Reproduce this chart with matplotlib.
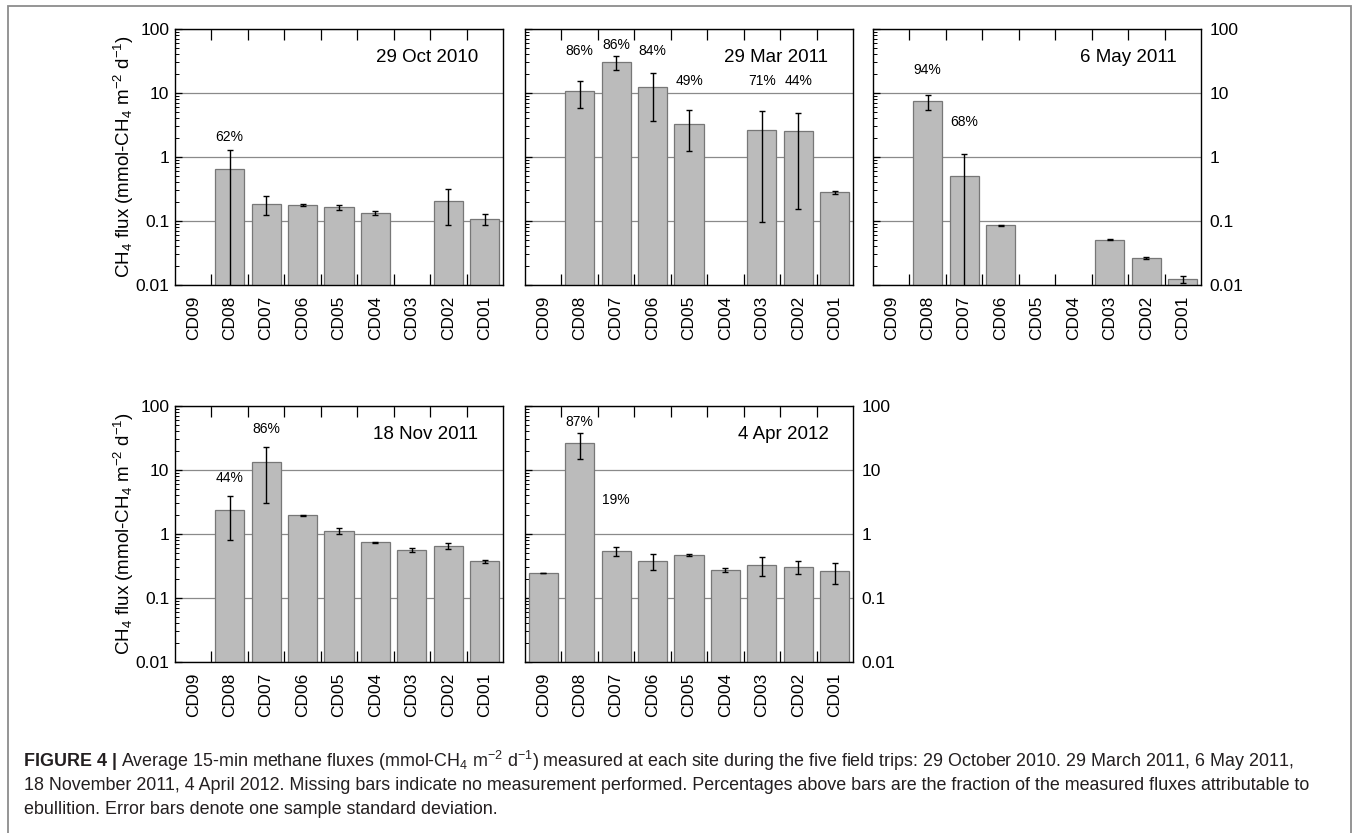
import matplotlib
matplotlib.use('Agg')
import matplotlib.pyplot as plt
import numpy as np
from matplotlib.patches import Rectangle
from matplotlib.ticker import LogLocator, NullFormatter

plt.rcParams['font.family'] = ['Liberation Sans', 'DejaVu Sans']
plt.rcParams['mathtext.fontset'] = 'custom'
plt.rcParams['mathtext.rm'] = 'Liberation Sans'
plt.rcParams['mathtext.it'] = 'Liberation Sans:italic'
plt.rcParams['mathtext.bf'] = 'Liberation Sans:bold'

nan = np.nan
sites = ['CD09', 'CD08', 'CD07', 'CD06', 'CD05', 'CD04', 'CD03', 'CD02', 'CD01']

# mean flux, error bar low / high ends (mmol-CH4 m-2 d-1), ebullition share
oct10_flux = [nan, 0.66, 0.187, 0.176, 0.166, 0.133, nan, 0.203, 0.107]
oct10_lo = [nan, 0.005, 0.124, 0.169, 0.150, 0.126, nan, 0.087, 0.087]
oct10_hi = [nan, 1.29, 0.242, 0.187, 0.176, 0.141, nan, 0.316, 0.128]
oct10_pct = ['', '62%', '', '', '', '', '', '', '']
oct10_pct_y = [nan, 2.05, nan, nan, nan, nan, nan, nan, nan]

mar11_flux = [nan, 10.6, 30.5, 12.4, 3.32, nan, 2.64, 2.55, 0.284]
mar11_lo = [nan, 5.83, 22.9, 3.65, 1.24, nan, 0.0965, 0.154, 0.268]
mar11_hi = [nan, 15.6, 37.9, 20.8, 5.42, nan, 5.23, 4.87, 0.294]
mar11_pct = ['', '86%', '86%', '84%', '49%', '', '71%', '44%', '']
mar11_pct_y = [nan, 45.8, 56.9, 45.8, 15.2, nan, 15.2, 15.2, nan]

may11_flux = [nan, 7.5, 0.505, 0.0866, nan, nan, 0.051, 0.0264, 0.0124]
may11_lo = [nan, 5.42, 0.005, 0.085, nan, nan, 0.050, 0.0259, 0.0108]
may11_hi = [nan, 9.3, 1.11, 0.088, nan, nan, 0.052, 0.0269, 0.0139]
may11_pct = ['', '94%', '68%', '', '', '', '', '', '']
may11_pct_y = [nan, 23.2, 3.48, nan, nan, nan, nan, nan, nan]

nov11_flux = [nan, 2.37, 13.4, 1.96, 1.11, 0.75, 0.56, 0.65, 0.378]
nov11_lo = [nan, 0.806, 3.06, 1.91, 0.99, 0.73, 0.52, 0.58, 0.356]
nov11_hi = [nan, 3.93, 23.0, 1.99, 1.24, 0.76, 0.60, 0.72, 0.397]
nov11_pct = ['', '44%', '86%', '', '', '', '', '', '']
nov11_pct_y = [nan, 7.5, 44.5, nan, nan, nan, nan, nan, nan]

apr12_flux = [0.248, 26.5, 0.535, 0.378, 0.469, 0.273, 0.331, 0.305, 0.26]
apr12_lo = [0.246, 14.6, 0.447, 0.273, 0.453, 0.257, 0.218, 0.237, 0.165]
apr12_hi = [0.250, 38.1, 0.626, 0.486, 0.486, 0.290, 0.436, 0.378, 0.352]
apr12_pct = ['', '87%', '19%', '', '', '', '', '', '']
apr12_pct_y = [nan, 56.6, 3.44, nan, nan, nan, nan, nan, nan]

W, H = 1356, 833
fig = plt.figure(figsize=(W / 100, H / 100), dpi=100)


def make_panel(rect, title, flux, lo, hi, pct, pct_y, side):
    ax = fig.add_axes(rect)
    x = np.arange(len(sites))
    flux = np.array(flux)
    lo = np.array(lo)
    hi = np.array(hi)
    ax.set_yscale('log', nonpositive='clip')
    ax.set_ylim(0.01, 100)
    ax.set_xlim(-0.5, len(sites) - 0.5)
    ax.set_axisbelow(True)
    ax.yaxis.grid(True, which='major', color='#8a8a8a', lw=0.9)

    ax.bar(x, flux, width=0.8, color='#bbbbbb', edgecolor='#777777', lw=0.9)
    ok = ~np.isnan(flux)
    ax.errorbar(x[ok], flux[ok], yerr=[flux[ok] - lo[ok], hi[ok] - flux[ok]],
                fmt='none', ecolor='black', elinewidth=1.0, capsize=2.5, capthick=1.0)

    for i, s in enumerate(pct):
        if s:
            ax.text(x[i], pct_y[i], s, ha='center', va='center', fontsize=10)

    ax.text(0.925, 0.89, title, transform=ax.transAxes, ha='right', va='center', fontsize=13.5)

    # site names centred on bars, ticks on the bar boundaries
    ax.set_xticks(x, labels=sites, rotation=90, fontsize=12.5)
    ax.set_xticks(np.arange(0.5, len(sites) - 1, 1.0), minor=True)
    ax.tick_params(axis='x', which='major', length=0, pad=8)
    ax.tick_params(axis='x', which='minor', direction='in', length=8, width=0.9,
                   top=True, bottom=True)

    ax.set_yticks([0.01, 0.1, 1, 10, 100], labels=['0.01', '0.1', '1', '10', '100'])
    ax.yaxis.set_minor_locator(LogLocator(base=10, subs=np.arange(2, 10)))
    ax.yaxis.set_minor_formatter(NullFormatter())
    ax.tick_params(axis='y', which='major', direction='in', length=5, width=0.9,
                   left=True, right=False, labelsize=12.5, pad=4)
    ax.tick_params(axis='y', which='minor', direction='in', length=3, width=0.7,
                   left=True, right=False)
    if side == 'left':
        ax.set_ylabel('CH$_4$ flux (mmol-CH$_4$ m$^{-2}$ d$^{-1}$)', fontsize=13.5)
        ax.yaxis.set_label_coords(-0.118, 0.5)
    elif side == 'right':
        ax.tick_params(axis='y', which='major', labelleft=False, labelright=True, pad=6)
    else:
        ax.tick_params(axis='y', which='major', labelleft=False)
    for sp in ax.spines.values():
        sp.set_linewidth(1.0)
    return ax


col_x = [175 / W, 525 / W, 873 / W]
pw = 328 / W
row1 = (H - 285) / H
row2 = (H - 662) / H
ph = 256 / H

make_panel([col_x[0], row1, pw, ph], '29 Oct 2010', oct10_flux, oct10_lo, oct10_hi,
           oct10_pct, oct10_pct_y, 'left')
make_panel([col_x[1], row1, pw, ph], '29 Mar 2011', mar11_flux, mar11_lo, mar11_hi,
           mar11_pct, mar11_pct_y, 'none')
make_panel([col_x[2], row1, pw, ph], '6 May 2011', may11_flux, may11_lo, may11_hi,
           may11_pct, may11_pct_y, 'right')
make_panel([col_x[0], row2, pw, ph], '18 Nov 2011', nov11_flux, nov11_lo, nov11_hi,
           nov11_pct, nov11_pct_y, 'left')
make_panel([col_x[1], row2, pw, ph], '4 Apr 2012', apr12_flux, apr12_lo, apr12_hi,
           apr12_pct, apr12_pct_y, 'right')

# frame around figure and caption
fig.patches.append(Rectangle((8 / W, -0.02), (1351 - 8) / W, 1 - 6 / H + 0.02,
                             transform=fig.transFigure, fill=False,
                             edgecolor='#8c8c8c', lw=1.3))

caption = [
    'Average 15-min methane fluxes (mmol-CH$_4$ m$^{-2}$ d$^{-1}$) measured at each site during the five field trips: 29 October 2010. 29 March 2011, 6 May 2011,',
    '18 November 2011, 4 April 2012. Missing bars indicate no measurement performed. Percentages above bars are the fraction of the measured fluxes attributable to',
    'ebullition. Error bars denote one sample standard deviation.',
]
cap_color = '#231f20'
cap_size = 12.9
cap_y = [761, 785, 809]
fig.canvas.draw()
renderer = fig.canvas.get_renderer()
head = fig.text(24 / W, 1 - cap_y[0] / H, 'FIGURE 4 |', fontsize=cap_size, weight='bold',
                color=cap_color, va='center')
bb = head.get_window_extent(renderer)
fig.text((bb.x1 + 4) / W, 1 - cap_y[0] / H, caption[0], fontsize=cap_size, color=cap_color, va='center')
fig.text(24 / W, 1 - cap_y[1] / H, caption[1], fontsize=cap_size, color=cap_color, va='center')
fig.text(24 / W, 1 - cap_y[2] / H, caption[2], fontsize=cap_size, color=cap_color, va='center')

fig.savefig('out.png', dpi=100)
